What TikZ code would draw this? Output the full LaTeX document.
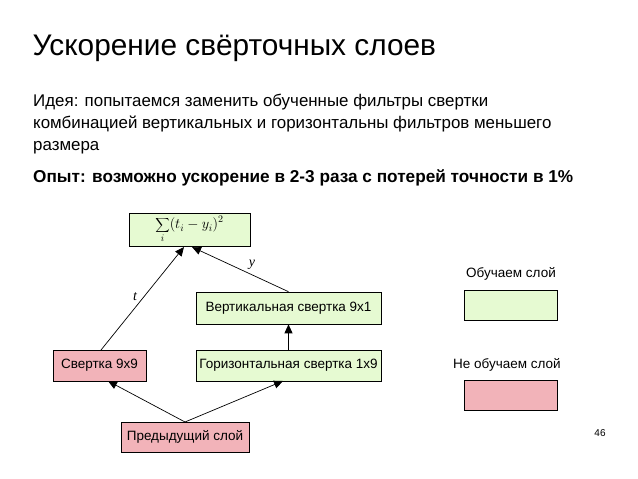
\documentclass[tikz,border=0pt]{standalone}
\usepackage{fontspec}
\setmainfont{Liberation Sans}
\newfontfamily\serf{Liberation Serif}
\usetikzlibrary{arrows.meta}
\definecolor{gfill}{HTML}{E6FAD2}
\definecolor{pfill}{HTML}{F2B3B9}
\tikzset{
 box/.style={draw, line width=0.6pt, minimum height=31pt, inner sep=0pt, font=\fontsize{13.5}{16}\selectfont},
 gbox/.style={box, fill=gfill},
 pbox/.style={box, fill=pfill},
 arr/.style={-{Triangle[length=9pt,width=8pt]}, line width=0.7pt},
}
\begin{document}
\begin{tikzpicture}[x=1pt,y=-1pt]
\useasboundingbox (0,0) rectangle (638,479);
\node[anchor=west, font=\fontsize{29.8}{34}\selectfont] (title) at (29,48) {Ускорение свёрточных слоев};
\node[anchor=north west, align=left, font=\fontsize{16.9}{22}\selectfont, inner sep=0pt] (idea) at (33,94) {Идея: попытаемся заменить обученные фильтры свертки\\комбинацией вертикальных и горизонтальны фильтров меньшего\\размера};
\node[anchor=west, font=\bfseries\fontsize{17.2}{20}\selectfont, inner sep=0pt] (exp) at (33,178) {Опыт: возможно ускорение в 2-3 раза с потерей точности в 1\%};
\node[gbox, minimum width=121pt, minimum height=33pt, font=\fontsize{14}{16}\selectfont] (sum) at (189.5,229.5) {$\displaystyle\sum_{i}(t_i - y_i)^2$};
\node[pbox, minimum width=93pt] (c9) at (99.5,365.5) {Свертка 9x9};
\node[gbox, minimum width=185pt, minimum height=32pt] (vert) at (288.5,308) {Вертикальная свертка 9x1};
\node[gbox, minimum width=185pt] (hor) at (288.5,365.5) {Горизонтальная свертка 1x9};
\node[pbox, minimum width=128pt, minimum height=30pt] (prev) at (185,437) {Предыдущий слой};
\coordinate (ps) at (185,422);
\draw[arr] (ps) -- (108,381);
\draw[arr] (ps) -- (283,381);
\draw[arr] (hor.north) -- (vert.south);
\draw[arr] (101,350) -- (184,247);
\draw[arr] (vert.north) -- (192,247);
\node[font=\serf\itshape\fontsize{14}{16}\selectfont] (t) at (135,297) {t};
\node[font=\serf\itshape\fontsize{14}{16}\selectfont] (y) at (252,265) {y};
\node[font=\fontsize{13.5}{16}\selectfont] (l1) at (511,274) {Обучаем слой};
\node[gbox, minimum width=93pt, minimum height=30pt] (lg) at (510.5,305) {};
\node[font=\fontsize{13.5}{16}\selectfont] (l2) at (507,365) {Не обучаем слой};
\node[pbox, minimum width=93pt, minimum height=30pt] (lp) at (510.5,395) {};
\node[font=\fontsize{10}{12}\selectfont] (pg) at (600,433) {46};
\end{tikzpicture}
\end{document}
